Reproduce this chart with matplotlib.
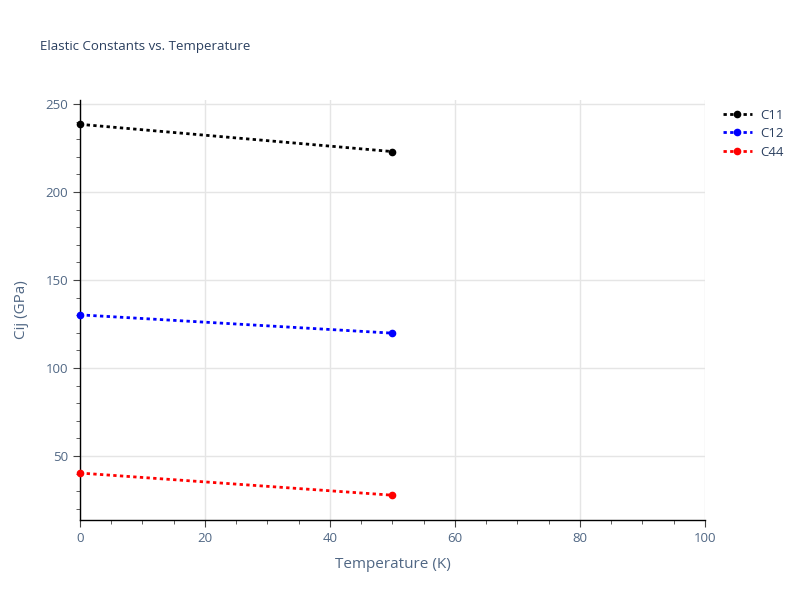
import matplotlib.pyplot as plt
from matplotlib.ticker import MultipleLocator

plt.rcParams['font.family'] = ['Open Sans', 'DejaVu Sans']

# data
temperature = [0, 50]
c11 = [238.5, 223.0]
c12 = [130.2, 119.8]
c44 = [40.3, 27.7]

series = [("C11", c11, "black"), ("C12", c12, "blue"), ("C44", c44, "red")]
text_col = "#2a3f5f"
tick_col = "#506784"

fig = plt.figure(figsize=(8, 6), dpi=100)
ax = fig.add_axes([0.1, 0.1333, 0.781, 0.7])

for name, vals, col in series:
    ax.plot(temperature, vals, linestyle=(0, (1.2, 1.2)), linewidth=2, color=col,
            marker="o", markersize=4.5, label=name, clip_on=False, zorder=3)

ax.set_xlim(0, 100)
ax.set_ylim(13.6, 252.3)
ax.xaxis.set_major_locator(MultipleLocator(20))
ax.xaxis.set_minor_locator(MultipleLocator(5))
ax.yaxis.set_major_locator(MultipleLocator(50))
ax.yaxis.set_minor_locator(MultipleLocator(10))
ax.set_yticks([50, 100, 150, 200, 250])

ax.grid(True, which="major", color="#e5e5e5", linewidth=1)
ax.set_axisbelow(True)
for s in ["top", "right"]:
    ax.spines[s].set_visible(False)
for s in ["left", "bottom"]:
    ax.spines[s].set_color("black")
    ax.spines[s].set_linewidth(1)

ax.tick_params(which="major", length=5, color="#444444", labelcolor=tick_col, labelsize=9.5)
ax.tick_params(which="minor", length=3, color="#444444")

ax.set_xlabel("Temperature (K)", color=tick_col, fontsize=11, labelpad=9)
ax.set_ylabel("Cij (GPa)", color=tick_col, fontsize=11, labelpad=12)
fig.text(0.05, 0.923, "Elastic Constants vs. Temperature", color=text_col, fontsize=9.5,
         va="center")

leg = ax.legend(loc="upper left", bbox_to_anchor=(1.01, 1.008), frameon=False,
                fontsize=9.5, labelcolor=text_col, handlelength=2.2, handletextpad=0.6,
                labelspacing=0.42)

fig.savefig("out.png", dpi=100)
